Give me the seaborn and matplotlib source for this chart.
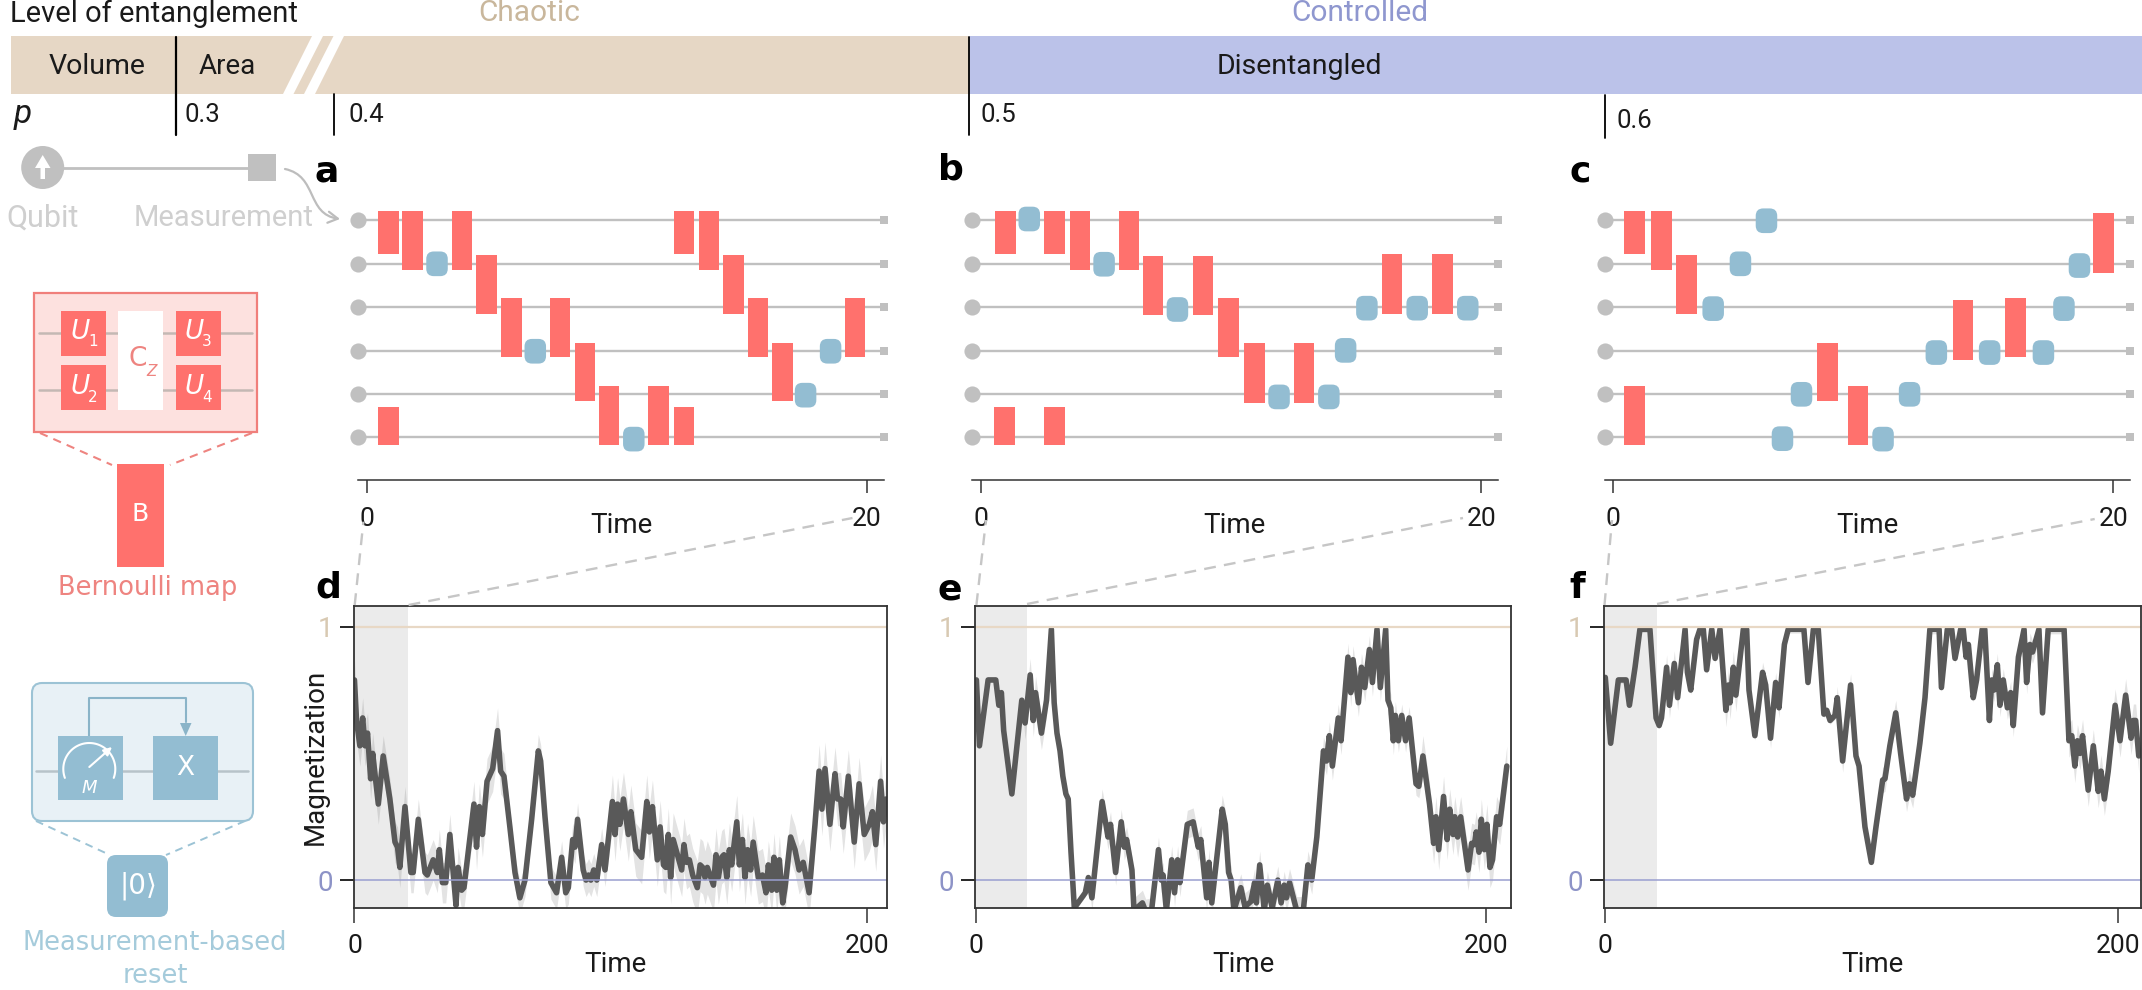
import numpy as np
import pandas as pd
import matplotlib
matplotlib.use("Agg")
import matplotlib.pyplot as plt
import seaborn as sns
from matplotlib.patches import FancyBboxPatch, Rectangle, Polygon, FancyArrowPatch, Circle
from matplotlib.path import Path

# ---------- magnetization traces ----------
d_time = [0,.8,2.1,3.2,4.1,5.1,6.3,7.1,9.3,11.2,13.8,15.8,16.8,17.7,19.7,22,22.9,24.9,27.5,28.4,30.7,32.3,33.1,34.3,35.6,37.2,39.6,40.4,41.8,42.7,46.6,47.6,48.7,49.9,51.7,53.9,55.8,57,58.3,60.6,62.6,64.5,66.5,69.1,71.7,72.6,74.3,76.6,78.8,80.8,82.4,83.4,85.1,86,87,89.2,90.3,91.3,92.2,93.3,94.5,96.4,97.7,100.6,101.6,102.6,103.5,104.9,106.8,107.8,109.7,112,114,115,116.2,118.1,119.2,120.5,121.4,122.4,123.3,124.3,127.6,128.5,129.5,130.6,131.9,133.7,134.8,135.8,136.7,137.6,140,141,141.9,143.2,144.1,145.2,146.2,147.1,149.1,150.1,151.3,152.3,153.3,154.5,155.5,157.5,159.1,160.5,161.4,162.7,163.6,164.7,165.7,167,167.9,170.1,171.8,173.4,175,177.3,179.6,181.2,182.3,183.5,185.4,187.4,188.4,189.6,190.6,192.6,194.9,196.8,198.8,200.8,202,203.3,205.2,206.3,207.3]
d_mag = [.79,.63,.53,.64,.53,.58,.40,.50,.30,.49,.32,.15,.13,.05,.29,.03,.03,.24,.03,.02,.08,.03,.12,-.01,-.01,.18,-.10,.05,-.04,-.03,.30,.13,.29,.18,.39,.44,.59,.43,.41,.21,.03,-.07,0,.24,.51,.47,.25,-.01,-.05,.09,-.05,-.03,.16,.13,.24,.04,0,.02,0,.04,0,.14,.04,.31,.18,.30,.22,.32,.18,.27,.12,.09,.31,.19,.29,.08,.21,.06,.05,.18,.01,.16,.04,.14,.07,.08,.02,-.03,.06,.05,.01,.05,-.02,.10,.01,.09,.10,.01,.12,.06,.23,.06,.16,.01,.12,.04,.15,.01,.02,-.05,.06,-.04,.09,-.04,.08,-.09,-.03,.17,.12,.04,.07,-.05,.22,.43,.28,.44,.22,.42,.32,.32,.21,.41,.15,.38,.18,.22,.27,.14,.39,.23,.32]
d_band_from = [0,45,60,100,160,180]
d_band = [.08,.09,.065,.105,.095,.105]

e_time = [0,1.2,4.6,7.6,8.8,9.8,10.7,13.9,17.8,19.1,21.1,22.3,23.2,25.5,27.5,29.4,30.5,31.6,32.8,33.9,35.1,36,37.1,38.4,42.7,43.9,45.3,49.3,51.6,52.6,54.6,56.8,58,58.9,61,61.8,65.1,66.4,68.7,71.4,72.5,73.2,74.5,76.6,77.7,78.9,79.8,82.7,85,87,88,90.3,91.2,92.3,96.4,97.6,98.9,99.9,101,103.7,105.3,107.6,109.1,109.8,111.1,112.9,114.1,116,118.2,119.5,120.7,121.6,122.8,125.6,128.2,130,131.5,133.5,136.1,137.3,138.4,139.6,141.9,143,145.7,146.8,147.7,149.8,151,152.3,154.1,155.3,157.1,158.4,160.5,161.4,162.5,163.5,164.3,165.5,166.8,168.3,169.7,172.4,173.5,175.1,177.7,179.3,180.2,181.3,183.2,184.6,185.6,186.9,187.6,188.7,189.9,192.8,194.2,195.3,196,197.1,198,199.2,200.2,201.4,202.4,204,205.2,208]
e_mag = [.79,.53,.79,.79,.69,.74,.59,.34,.71,.62,.81,.63,.74,.58,.71,.99,.70,.58,.51,.41,.34,.32,.11,-.11,-.05,.01,-.07,.31,.17,.22,.03,.23,.13,.16,.04,-.12,-.09,-.125,-.12,.12,0,.02,-.12,.08,-.05,.08,-.01,.22,.23,.13,.16,-.07,.07,-.09,.28,.22,.03,0,-.12,-.03,-.105,-.085,-.01,-.09,.06,-.12,-.02,-.11,0,-.09,-.02,-.07,-.01,-.12,-.12,.06,0,.17,.51,.47,.57,.45,.64,.55,.88,.74,.87,.70,.84,.76,.91,.78,.99,.76,.99,.71,.68,.55,.65,.55,.65,.55,.64,.38,.37,.49,.30,.145,.25,.12,.33,.16,.28,.18,.25,.17,.25,.04,.145,.14,.19,.11,.24,.12,.22,.05,.08,.25,.22,.45]
e_band_from = [0,18,30,45,75,130,165,175]
e_band = [.01,.065,.015,.05,.055,.055,.045,.08]

f_time = [0,2.1,5.1,8.1,9.4,11.6,13.5,17.4,19.8,21,21.9,23.9,25,26.9,28.2,31.1,32,33.3,35.6,36.9,38.2,39.5,41.5,42.8,44.7,47,48,48.6,49.9,50.9,53.8,55.1,56,58.3,61.3,62.5,64.4,66.4,67.7,69.8,71.3,77.4,79,81.1,83,85.2,86.3,87.6,89.5,90.4,92.5,95.6,97.7,98.9,101.2,103.7,105.5,108.1,109,110.9,113.2,115.1,117.4,118.5,119.8,122.6,124.6,126.5,130.1,131,133.3,135,136.3,138.5,139.5,140.6,141.5,143.4,144.7,146.9,147.9,149.7,150.6,151.5,152.8,153.8,155.1,156.7,158,159,161,163.2,164.2,165.5,166.5,169,170.4,172.6,178.8,180.7,181.8,183,184,185,186,188.2,190.2,192.1,193.2,194.5,196,198.7,200.6,202.8,204.9,205.8,206.7,207.9]
f_mag = [.80,.54,.79,.79,.69,.84,.99,.99,.64,.61,.64,.84,.69,.855,.72,.99,.82,.75,.95,.99,.99,.83,.99,.875,.99,.67,.77,.70,.84,.73,.99,.99,.75,.57,.82,.77,.56,.78,.68,.93,.99,.99,.78,.99,.99,.655,.67,.63,.65,.72,.47,.77,.49,.45,.21,.07,.21,.395,.40,.53,.66,.50,.32,.38,.335,.54,.72,.99,.99,.76,.99,.99,.875,.99,.99,.88,.93,.72,.79,.99,.99,.63,.79,.75,.85,.69,.79,.68,.74,.61,.88,.99,.78,.93,.90,.99,.66,.99,.99,.55,.57,.45,.55,.50,.57,.355,.53,.35,.43,.32,.43,.69,.55,.73,.56,.63,.63,.49]
f_band_from = [0,23,30,47,52,60,68,90,97,105,125,150,170,180]
f_band = [.012,.05,.018,.065,.018,.04,.015,.045,.015,.05,.018,.045,.018,.065]

window_end = [21, 20, 20]
mag_ticks = [0, 1]
mag_tick_labels = ["0", "1"]
trace_ticks = [0, 200]
circuit_ticks = [0, 20]

# ---------- circuits: gate time, top and bottom in qubit-row units ----------
qubit_rows = [0, 1, 2, 3, 4, 4.97]

a_map_t = [.86,1.82,3.79,4.77,5.78,7.71,8.72,9.67,11.65,12.67,12.67,13.68,14.65,15.64,16.61,19.52,.86]
a_map_top = [-.22,-.22,-.22,.80,1.79,1.79,2.81,3.80,3.80,4.30,-.22,-.22,.80,1.79,2.81,1.79,4.30]
a_map_bot = [.77,1.14,1.14,2.16,3.15,3.15,4.16,5.16,5.16,5.16,.77,1.14,2.16,3.15,4.16,3.15,5.16]
a_reset_t = [2.80,6.73,10.67,17.54,18.54]
a_reset_row = [1.0,3.01,5.03,4.02,3.01]

b_map_t = [.99,2.95,3.96,5.92,6.88,8.89,9.91,10.94,12.91,16.44,18.46,.95,2.95]
b_map_top = [-.22,-.22,-.22,-.22,.81,.81,1.79,2.83,2.83,.78,.78,4.30,4.30]
b_map_bot = [.77,.77,1.14,1.14,2.18,2.18,3.15,4.19,4.19,2.15,2.15,5.16,5.16]
b_reset_t = [1.94,4.93,7.86,11.92,13.91,14.58,15.43,17.44,19.46]
b_reset_row = [-.03,1.01,2.05,4.06,4.06,2.99,2.02,2.02,2.02]

c_map_t = [.86,1.93,2.94,13.99,16.08,8.57,9.78,.86,19.60]
c_map_top = [-.22,-.22,.80,1.84,1.79,2.81,3.80,3.80,-.17]
c_map_bot = [.77,1.14,2.16,3.21,3.15,4.16,5.16,5.16,1.20]
c_reset_t = [6.13,5.09,4.0,18.64,18.02,12.92,15.05,17.2,7.53,11.85,6.77,10.79]
c_reset_row = [.01,1.0,2.03,1.04,2.03,3.04,3.04,3.04,4.0,4.0,5.02,5.03]

# ---------- colours ----------
TAN = "#e6d7c5"
PERI = "#bbc2e9"
RED = "#ff716d"
BLUE = "#93bdd2"
WIRE = "#c0c0c0"
TRACE = "#595959"
INK = "#1a1a1a"
FRAME = "#333333"

sns.set_theme(style="white")
plt.rcParams["font.family"] = ["Roboto", "DejaVu Sans"]

W, H = 2142, 990
fig = plt.figure(figsize=(W / 100, H / 100), dpi=100, facecolor="white")


def place(l, t, r, b):
    ax = fig.add_axes([l / W, 1 - b / H, (r - l) / W, (b - t) / H])
    ax.patch.set_alpha(0)
    return ax


# ---------- circuit panels ----------
GATE_W = 0.82
ROW_PX = 43.5
T_PX = 25.0


def draw_circuit(box, map_t, map_top, map_bot, reset_t, reset_row, label_x):
    ax = place(*box)
    ax.set_xlim(-0.344, 20.66)
    ax.set_ylim(5.97, -0.467)
    x0, x1 = ax.get_xlim()
    ax.hlines(qubit_rows, x0, x1, color=WIRE, lw=1.7, zorder=1)
    sns.scatterplot(x=[x0] * 6, y=qubit_rows, s=135, color=WIRE, marker="o",
                    linewidth=0, ax=ax, clip_on=False, zorder=2)
    sns.scatterplot(x=[x1] * 6, y=qubit_rows, s=32, color=WIRE, marker="s",
                    linewidth=0, ax=ax, clip_on=False, zorder=2)
    heights = np.array(map_bot) - np.array(map_top)
    ax.bar(map_t, heights, width=GATE_W, bottom=map_top, color=RED, linewidth=0, zorder=3)
    bh = 0.567
    bw = 0.86
    for t, r in zip(reset_t, reset_row):
        inset = 0.3
        ax.add_patch(FancyBboxPatch(
            (t - bw / 2 + inset, r - bh / 2 + inset * T_PX / ROW_PX),
            bw - 2 * inset, bh - 2 * inset * T_PX / ROW_PX,
            boxstyle=f"round,pad={inset},rounding_size={inset}",
            mutation_aspect=T_PX / ROW_PX, fc=BLUE, ec="none", zorder=3))
    for s in ["top", "left", "right"]:
        ax.spines[s].set_visible(False)
    ax.spines["bottom"].set_color(FRAME)
    ax.spines["bottom"].set_linewidth(1.1)
    ax.set_xticks(circuit_ticks)
    ax.set_yticks([])
    ax.tick_params(axis="x", bottom=True, length=9.4, width=1.1, color=FRAME,
                   labelsize=19, labelcolor=INK, pad=10)
    ax.set_xlabel("Time", fontsize=20, color=INK, va="center")
    ax.xaxis.set_label_coords((label_x - box[0]) / (box[2] - box[0]), -(525.5 - box[3]) / (box[3] - box[1]))


draw_circuit((358.4, 200, 883.6, 480), a_map_t, a_map_top, a_map_bot, a_reset_t, a_reset_row, 621)
draw_circuit((972.1, 200, 1497.8, 480), b_map_t, b_map_top, b_map_bot, b_reset_t, b_reset_row, 1234)
draw_circuit((1604.5, 200, 2130, 480), c_map_t, c_map_top, c_map_bot, c_reset_t, c_reset_row, 1867)


# ---------- magnetization panels ----------
def draw_trace(box, xlim, time, mag, band_from, band, win_end, label_x, show_ylabel=False):
    ax = place(*box)
    t = np.array(time, dtype=float)
    m = np.array(mag, dtype=float)
    spread = np.array(band)[np.searchsorted(band_from, t, side="right") - 1]
    frame = pd.DataFrame({
        "Time": np.tile(t, 3),
        "Magnetization": np.concatenate([m, np.minimum(m + spread, 1.0), m - spread]),
    })
    ax.axvspan(xlim[0], win_end, color="#ebebeb", lw=0, zorder=0)
    sns.lineplot(data=frame, x="Time", y="Magnetization", estimator="median",
                 errorbar=("pi", 100), color=TRACE, lw=4.0, ax=ax, zorder=3,
                 err_kws={"alpha": 0.17, "linewidth": 0})
    ax.axhline(1, color="#e8d8c5", lw=1.6, zorder=5)
    ax.axhline(0, color="#9a9fd0", lw=1.1, zorder=5)
    ax.set_xlim(*xlim)
    ax.set_ylim(-0.109, 1.083)
    ax.set_xticks(trace_ticks)
    ax.set_yticks(mag_ticks)
    ax.set_yticklabels(mag_tick_labels)
    ax.tick_params(axis="x", bottom=True, length=10.8, width=1.1, color=FRAME,
                   labelsize=19, labelcolor=INK, pad=8)
    ax.tick_params(axis="y", left=True, length=10, width=1.4, labelsize=20, pad=5)
    for tick, tc, lc in zip(ax.yaxis.get_major_ticks(), ["#9a9fd0", "#e8d8c5"], ["#8d93c7", "#d8c9b2"]):
        tick.tick1line.set_color(tc)
        tick.label1.set_color(lc)
    for s in ax.spines.values():
        s.set_color(FRAME)
        s.set_linewidth(1.3)
        s.set_zorder(6)
    ax.set_xlabel("Time", fontsize=20, color=INK, va="center")
    ax.xaxis.set_label_coords((label_x - box[0]) / (box[2] - box[0]), -(964.5 - box[3]) / (box[3] - box[1]))
    if show_ylabel:
        ax.set_ylabel("Magnetization", fontsize=20, color=INK, va="center")
        ax.yaxis.set_label_coords((315.5 - box[0]) / (box[2] - box[0]), (box[3] - 757) / (box[3] - box[1]))
    else:
        ax.set_ylabel("")


draw_trace((353.7, 605.7, 886.8, 907.7), (-0.3, 207.6), d_time, d_mag, d_band_from, d_band,
           window_end[0], 615, True)
draw_trace((975.3, 605.7, 1511.4, 907.7), (-0.43, 209.8), e_time, e_mag, e_band_from, e_band,
           window_end[1], 1243)
draw_trace((1604.1, 605.7, 2140.8, 907.7), (-0.46, 208.7), f_time, f_mag, f_band_from, f_band,
           window_end[2], 1872)

# ---------- full-figure layer in pixel units for the schematic parts ----------
ov = fig.add_axes([0, 0, 1, 1], zorder=10)
ov.set_xlim(0, W)
ov.set_ylim(H, 0)
ov.axis("off")


def txt(x, y, s, size=18, color=INK, ha="center", va="center", **kw):
    ov.text(x, y, s, fontsize=size, color=color, ha=ha, va=va, **kw)


def rect(x0, y0, x1, y1, fc, ec="none", lw=0, z=2):
    ov.add_patch(Rectangle((x0, y0), x1 - x0, y1 - y0, fc=fc, ec=ec, lw=lw, zorder=z))


# entanglement band across the top
band_y0, band_y1 = 36, 94
ov.add_patch(Polygon([(11, band_y0), (312, band_y0), (283, band_y1), (11, band_y1)], fc=TAN, ec="none"))
ov.add_patch(Polygon([(323, band_y0), (333.5, band_y0), (304, band_y1), (293.5, band_y1)], fc=TAN, ec="none"))
ov.add_patch(Polygon([(344, band_y0), (968.5, band_y0), (968.5, band_y1), (315, band_y1)], fc=TAN, ec="none"))
rect(968.5, band_y0, W, band_y1, PERI)
for x, y0, y1, lw in [(176, 37, 135, 1.6), (334, 94, 135, 1.3), (968.5, 37, 135, 1.3), (1605, 95, 138, 1.3)]:
    ov.plot([x, x], [y0, y1], color="black", lw=lw, zorder=3)

txt(10, 14, "Level of entanglement", 21, ha="left")
txt(529, 13, "Chaotic", 21.5, "#c9b79c")
txt(1360, 13, "Controlled", 21.5, "#8f97cf")
txt(97, 66, "Volume", 20.5)
txt(227, 66, "Area", 20)
txt(1299, 66, "Disentangled", 20.5)
txt(14, 114, "p", 24, ha="left", style="italic")
for x, y, s in [(184, 115, "0.3"), (349, 115, "0.4"), (981, 115, "0.5"), (1616, 121, "0.6")]:
    txt(x, y, s, 18.5, ha="left")

# qubit and measurement key
ov.plot([42, 262], [167.5, 167.5], color=WIRE, lw=2, zorder=2)
ov.add_patch(Circle((42.7, 167.5), 21.5, fc=WIRE, ec="none", zorder=3))
ov.add_patch(Polygon([(42.7, 155), (35, 168), (40.5, 168), (40.5, 179), (45, 179), (45, 168), (50.5, 168)],
                     fc="white", ec="none", zorder=4))
rect(248, 154, 276, 181, WIRE, z=3)
txt(43, 218, "Qubit", 22, "#cfcfcf")
txt(224, 218, "Measurement", 21, "#cfcfcf")
curve = Path([(285, 169), (318, 176), (306, 214), (340, 219)],
             [Path.MOVETO, Path.CURVE4, Path.CURVE4, Path.CURVE4])
ov.add_patch(FancyArrowPatch(path=curve, arrowstyle="->,head_length=7,head_width=4", color="#bdbdbd", lw=1.6,
                             zorder=5))

# Bernoulli map key
rect(34.3, 293, 257, 431.6, "#fde1df", "#f07f7b", 1.6)
for y in (333.4, 390.3):
    ov.plot([39, 252], [y, y], color="#c4b8b4", lw=1.8, zorder=3)
rect(118, 311, 163, 410, "white", z=4)
for x0, y0, nx, ny, n in [(61, 311.3, 80, 332, "1"), (61, 365, 80, 387, "2"), (175.7, 311.3, 194, 332, "3"),
                          (175.7, 365, 194, 387, "4")]:
    rect(x0, y0, x0 + 45.3, y0 + 44.6, RED, z=4)
    txt(nx, ny, "U", 19, "white", family="DejaVu Sans", style="italic", zorder=5)
    txt(nx + 13, ny + 10, n, 11, "white", family="DejaVu Sans", zorder=5)
txt(138, 359, "C", 19, "#ee8480", family="DejaVu Sans", zorder=5)
txt(152, 371, "Z", 11, "#ee8480", family="DejaVu Sans", style="italic", zorder=5)
ov.plot([40, 112], [433, 465], color="#ee8480", lw=1.5, ls=(0, (4, 3)), zorder=2)
ov.plot([252, 170], [433, 465], color="#ee8480", lw=1.5, ls=(0, (4, 3)), zorder=2)
rect(117.3, 464, 164, 567, RED, z=3)
txt(140, 514, "B", 18, "white", family="DejaVu Sans", zorder=4)
txt(148, 588, "Bernoulli map", 18.5, "#ee8480", family="DejaVu Sans")

# measurement-based reset key
ov.add_patch(FancyBboxPatch((37, 688), 211, 128, boxstyle="round,pad=5,rounding_size=10",
                            fc="#e8f1f6", ec="#9cc3d5", lw=1.5, zorder=2))
ov.plot([36, 248], [770.5, 770.5], color="#b7c3c9", lw=1.8, zorder=3)
rect(58, 736, 122.7, 800, BLUE, z=4)
rect(153, 736, 218, 800, BLUE, z=4)
ov.plot([89, 89, 185.7, 185.7], [736, 698, 698, 722], color="#8ab4c8", lw=1.5, zorder=3)
ov.add_patch(Polygon([(185.7, 736), (180, 723), (191.5, 723)], fc="#8ab4c8", ec="none", zorder=5))
arc_deg = np.linspace(-20, 200, 60)
ov.plot(89.3 + 26 * np.cos(np.radians(arc_deg)), 769 - 26 * np.sin(np.radians(arc_deg)),
        color="white", lw=1.5, zorder=5)
ov.annotate("", xy=(112, 747), xytext=(89.3, 767), zorder=5,
            arrowprops=dict(arrowstyle="-|>", color="white", lw=1.5, shrinkA=0, shrinkB=0))
txt(89, 788, "M", 13, "white", family="DejaVu Sans", style="italic", zorder=5)
txt(185.7, 768, "X", 19, "white", family="DejaVu Sans", zorder=5)
ov.plot([36, 110], [821, 855], color="#9cc3d5", lw=1.4, ls=(0, (4, 3)), zorder=2)
ov.plot([245, 166], [821, 855], color="#9cc3d5", lw=1.4, ls=(0, (4, 3)), zorder=2)
ov.add_patch(FancyBboxPatch((113, 861), 49, 50, boxstyle="round,pad=6,rounding_size=9",
                            fc=BLUE, ec="none", zorder=3))
txt(138, 886, "|0⟩", 20, "white", family="DejaVu Sans", zorder=4)
txt(155, 943.5, "Measurement-based", 18.5, "#a5cbdb", family="DejaVu Sans")
txt(155, 976, "reset", 18.5, "#a5cbdb", family="DejaVu Sans")

# dashed guides from each circuit's time window down to its trace
guides = [((354.7, 605), (363.4, 521.7)), ((408.6, 605), (852.5, 518)),
          ((976.4, 605), (986, 520)), ((1027, 604), (1463, 518)),
          ((1604.5, 605), (1612, 520)), ((1657, 604), (2094.7, 519))]
for (x0, y0), (x1, y1) in guides:
    ov.plot([x0, x1], [y0, y1], color="#c6c6c6", lw=1.7, ls=(0, (5, 3.5)), zorder=1)

# panel letters
for x, y, s in [(326.5, 171, "a"), (951, 169, "b"), (1580, 171, "c"),
                (328, 588, "d"), (950, 589, "e"), (1577, 588, "f")]:
    txt(x, y, s, 26, "black", family="DejaVu Sans", weight="bold")

fig.savefig("out.png", dpi=100, facecolor="white")
